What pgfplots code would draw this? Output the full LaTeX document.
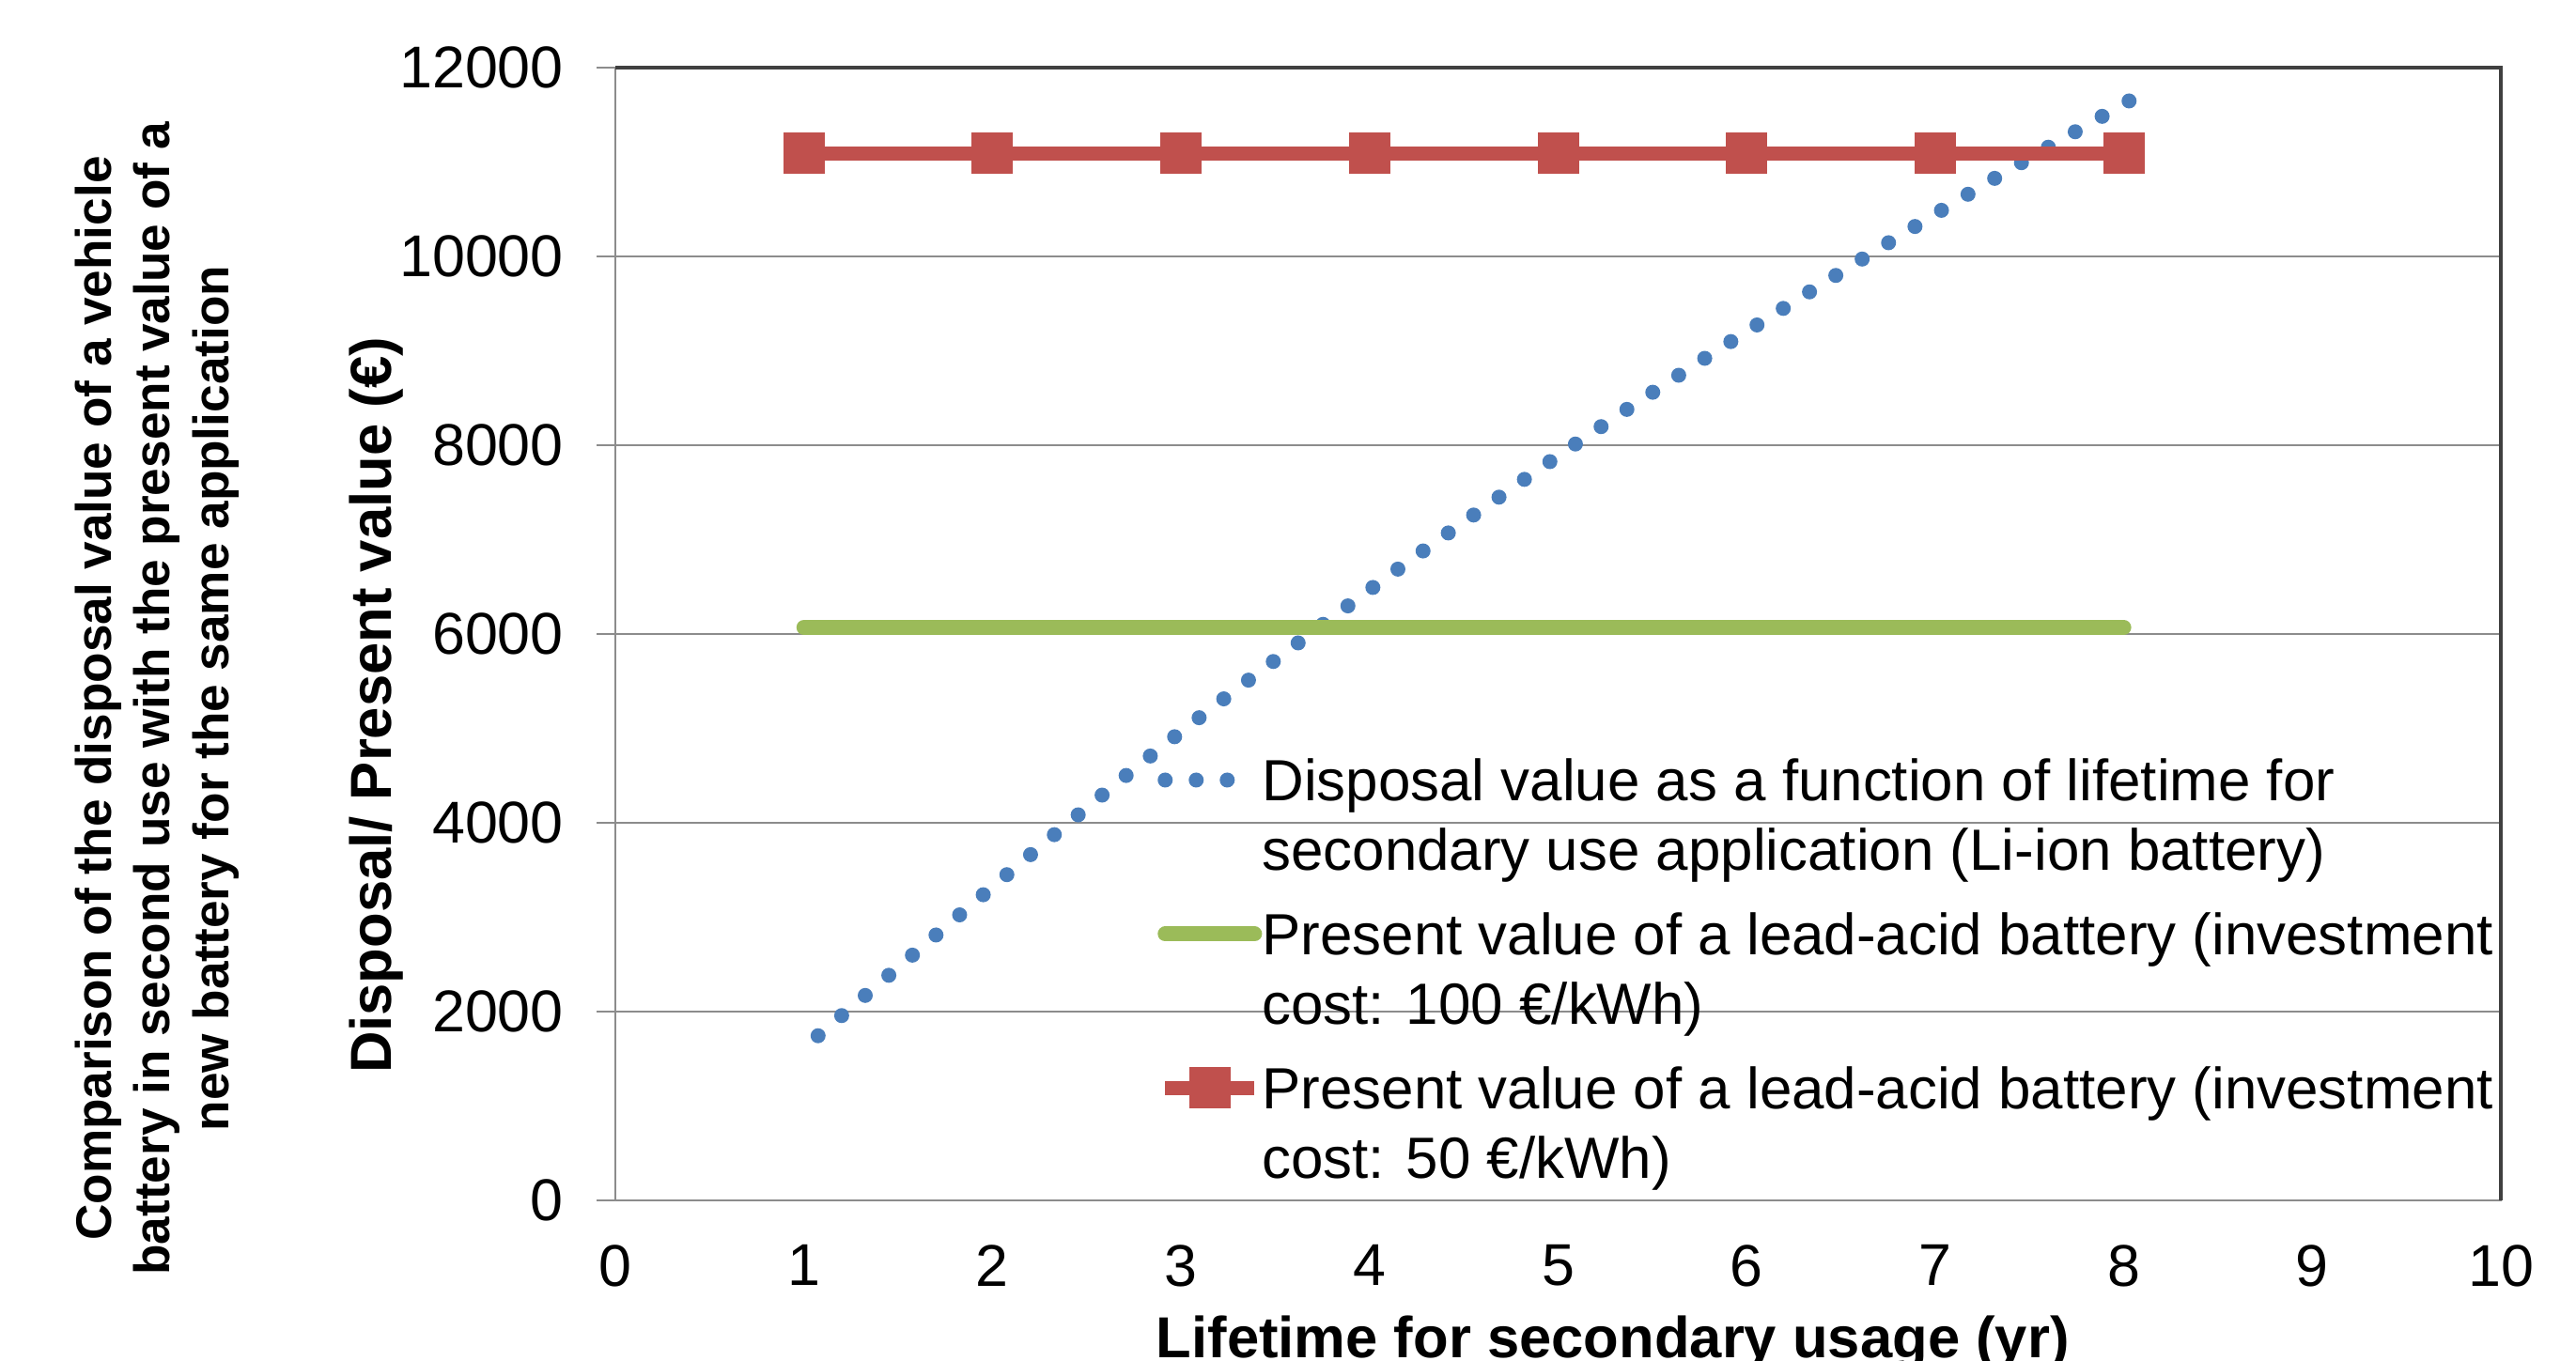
\documentclass[border=0pt]{standalone}
\usepackage{fontspec}
\setmainfont{Liberation Sans}
\usepackage{pgfplots}
\pgfplotsset{compat=1.18}
\definecolor{xlblue}{HTML}{4A7EBB}
\definecolor{xlred}{HTML}{C0504D}
\definecolor{xlgreen}{HTML}{9BBB59}
\pgfplotsset{
  shortlegend/.style={legend image code/.code={\draw[##1] (0bp,0bp) -- (11bp,0bp);}},
  linelegend/.style={legend image code/.code={\draw[mark repeat=2,mark phase=2,##1]
    plot coordinates {(0bp,0bp) (7.85bp,0bp) (15.7bp,0bp)};}},
}

\begin{document}
\begin{tikzpicture}
\useasboundingbox (-108.1bp,-28.2bp) rectangle (344.4bp,210.9bp);
\begin{axis}[
  name=ax, at={(0,0)}, anchor=south west,
  scale only axis, width=331.2bp, height=199bp,
  xmin=0, xmax=10, ymin=0, ymax=12000,
  xtick={0,...,10}, ytick={0,2000,...,12000},
  /pgf/number format/assume math mode=true,
  /pgf/number format/1000 sep={},
  scaled y ticks=false,
  tick label style={font=\fontsize{10.4}{12}\selectfont},
  xticklabel style={yshift=-1bp},
  yticklabel style={xshift=-2.3bp},
  ymajorgrids, grid style={black!45, line width=0.45bp},
  axis line style={black!45, line width=0.4bp},
  xtick style={draw=none},
  ytick style={black!45, line width=0.4bp},
  ytick pos=left, tick align=outside, major tick length=3.3bp,
  xlabel={Lifetime for secondary usage (yr)},
  xlabel style={font=\fontsize{10.2}{12}\selectfont\bfseries, at={(rel axis cs:0.529,0)}, anchor=base, yshift=-27.6bp},
  ylabel={Disposal/ Present value (€)},
  ylabel style={font=\fontsize{10.2}{12}\selectfont\bfseries, at={(rel axis cs:0,0.437)}, anchor=center, yshift=42bp},
  legend style={at={(rel axis cs:0.287,0.396)}, anchor=north west, draw=none, fill=none,
    inner sep=0pt, row sep=4bp, column sep=0bp, font=\fontsize{10.25}{12.2}\selectfont,
    nodes={align=left, inner xsep=0pt, inner ysep=1bp}, cells={anchor=base west}},
  legend image post style={yshift=15.8bp},
  linelegend,
  after end axis/.code={
    \draw[black!75, line width=0.6bp] (rel axis cs:0,1) -- (rel axis cs:1,1) -- (rel axis cs:1,0);
  },
]
% disposal value of the used Li-ion battery
\addplot[xlblue, line width=2.64bp, line cap=round, dash pattern=on 0pt off 5.45bp, smooth, shortlegend]
  coordinates {
    (1.075,1744) (2.2,3660) (2.832,4700) (3.35,5500) (4.2,6760)
    (5.077,7993) (5.8,8950) (6.594,9950) (7.3,10810) (8.03,11650)
  };
\addlegendentry{Disposal value as a function of lifetime for\\secondary use application (Li-ion battery)}
% lead-acid, 100 EUR/kWh
\addplot[xlgreen, line width=2.64bp, line cap=round]
  coordinates {(1,6070) (8,6070)};
\addlegendentry{Present value of a lead-acid battery (investment\\cost: 100 €/kWh)}
% lead-acid, 50 EUR/kWh
\addplot[xlred, line width=2.5bp, mark=square*, mark size=3.55bp,
  mark options={solid, line width=0pt, fill=xlred, draw=xlred}]
  coordinates {(1,11092) (2,11092) (3,11092) (4,11092) (5,11092) (6,11092) (7,11092) (8,11092)};
\addlegendentry{Present value of a lead-acid battery (investment\\cost: 50 €/kWh)}
\end{axis}
\node[rotate=90, align=center, font=\fontsize{8.8}{10.4}\selectfont\bfseries]
  at (-80.5bp,88.2bp)
  {Comparison of the disposal value of a vehicle\\battery in second use with the present value of a\\new battery for the same application};
\end{tikzpicture}
\end{document}
